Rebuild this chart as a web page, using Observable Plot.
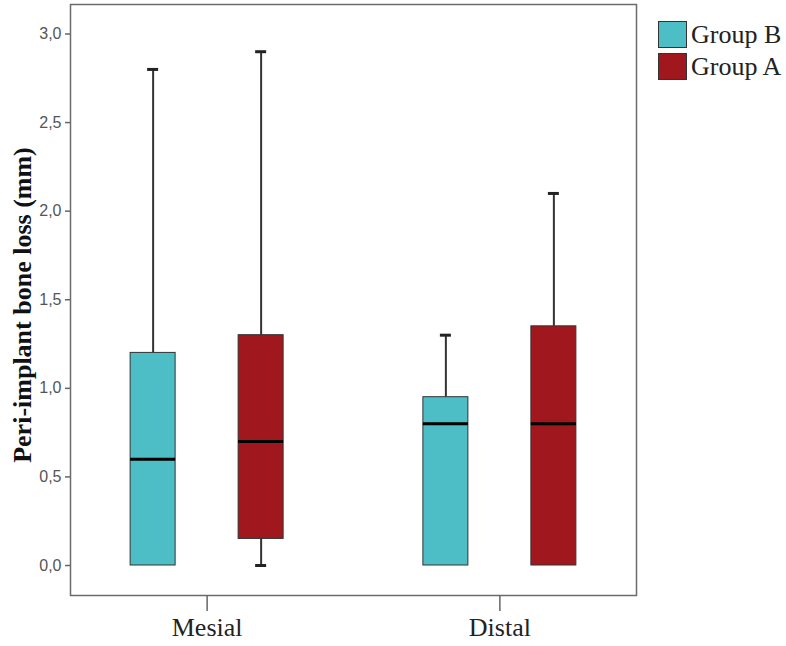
<!DOCTYPE html>
<html>
<head>
<meta charset="utf-8">
<script src="https://cdn.jsdelivr.net/npm/d3@7"></script>
<script src="https://cdn.jsdelivr.net/npm/@observablehq/plot@0.6"></script>
<style>
  html, body { margin: 0; padding: 0; background: #fff; }
  #wrap { position: relative; width: 786px; height: 646px; }
  #legend { position: absolute; left: 658px; top: 21px; font-family: "Liberation Serif", "Times New Roman", serif; font-size: 26px; color: #222; }
  .item { display: flex; align-items: center; height: 27px; margin-bottom: 5px; }
  .sw { width: 27px; height: 25px; border: 1px solid #333; margin-right: 4px; box-sizing: content-box; }
</style>
</head>
<body>
<div id="wrap"><div id="legend"></div></div>
<script>
const categories = ["Mesial", "Distal"];
const groups = ["Group B", "Group A"];
const colors = ["#4dbdc6", "#a0171e"];
const yTicks = [0, 0.5, 1, 1.5, 2, 2.5, 3];
const yLabel = "Peri-implant bone loss (mm)";

// Group B (per category: Mesial, Distal)
const bMin = [0, 0];
const bQ1 = [0, 0];
const bMedian = [0.6, 0.8];
const bQ3 = [1.2, 0.95];
const bMax = [2.8, 1.3];
// Group A
const aMin = [0, 0];
const aQ1 = [0.15, 0];
const aMedian = [0.7, 0.8];
const aQ3 = [1.3, 1.35];
const aMax = [2.9, 2.1];

const rows = [];
categories.forEach((c, i) => {
  rows.push({category: c, group: groups[0], min: bMin[i], q1: bQ1[i], median: bMedian[i], q3: bQ3[i], max: bMax[i]});
  rows.push({category: c, group: groups[1], min: aMin[i], q1: aQ1[i], median: aMedian[i], q3: aQ3[i], max: aMax[i]});
});
const lowerWhiskers = rows.filter(d => d.min < d.q1);
const upperWhiskers = rows.filter(d => d.max > d.q3);

const serif = "'Liberation Serif', 'Times New Roman', serif";

const chart = Plot.plot({
  width: 786,
  height: 646,
  marginLeft: 70,
  marginRight: 150,
  marginTop: 4,
  marginBottom: 51,
  style: {background: "transparent", overflow: "visible"},
  fx: {domain: categories, paddingInner: 0.0666, paddingOuter: 0, round: false, label: null},
  x: {domain: groups, paddingInner: 0.5833, paddingOuter: 0.5567, round: false, axis: null},
  y: {domain: [-0.1693, 3.1665]},
  color: {domain: groups, range: colors},
  marks: [
    Plot.frame({facet: "super", stroke: "#6b6b6b", strokeWidth: 1.5}),
    Plot.axisY({ticks: yTicks, tickFormat: d => d.toFixed(1).replace(".", ","), tickSize: 5, tickPadding: 4,
      fontSize: 16, fontFamily: "'Liberation Sans', Arial, sans-serif", fill: "#555", stroke: "#666", strokeWidth: 1.5, label: null}),
    Plot.axisFx({anchor: "bottom", tickSize: 16, tickPadding: 6, fontSize: 26, fontFamily: serif, fill: "#222", stroke: "#666", strokeWidth: 1.5, label: null}),
    Plot.text([yLabel], {fx: () => categories[0], frameAnchor: "left", textAnchor: "middle", lineAnchor: "middle", rotate: -90, dx: -48, dy: 5, fontSize: 26, fontWeight: "bold", fontFamily: serif, fill: "#111"}),
    Plot.ruleX(upperWhiskers, {fx: "category", x: "group", y1: "q3", y2: "max", stroke: "#333", strokeWidth: 2}),
    Plot.ruleX(lowerWhiskers, {fx: "category", x: "group", y1: "min", y2: "q1", stroke: "#333", strokeWidth: 2}),
    Plot.tickY(upperWhiskers, {fx: "category", x: "group", y: "max", insetLeft: 17, insetRight: 17, stroke: "#222", strokeWidth: 3}),
    Plot.tickY(lowerWhiskers, {fx: "category", x: "group", y: "min", insetLeft: 17, insetRight: 17, stroke: "#222", strokeWidth: 3}),
    Plot.barY(rows, {fx: "category", x: "group", y1: "q1", y2: "q3", fill: "group", stroke: "#333", strokeWidth: 1}),
    Plot.tickY(rows, {fx: "category", x: "group", y: "median", stroke: "#000", strokeWidth: 3})
  ]
});
document.getElementById("wrap").prepend(chart);

const legend = document.getElementById("legend");
groups.forEach((g, i) => {
  const item = document.createElement("div");
  item.className = "item";
  const sw = document.createElement("div");
  sw.className = "sw";
  sw.style.background = colors[i];
  const label = document.createElement("span");
  label.textContent = g;
  item.appendChild(sw);
  item.appendChild(label);
  legend.appendChild(item);
});
</script>
</body>
</html>
